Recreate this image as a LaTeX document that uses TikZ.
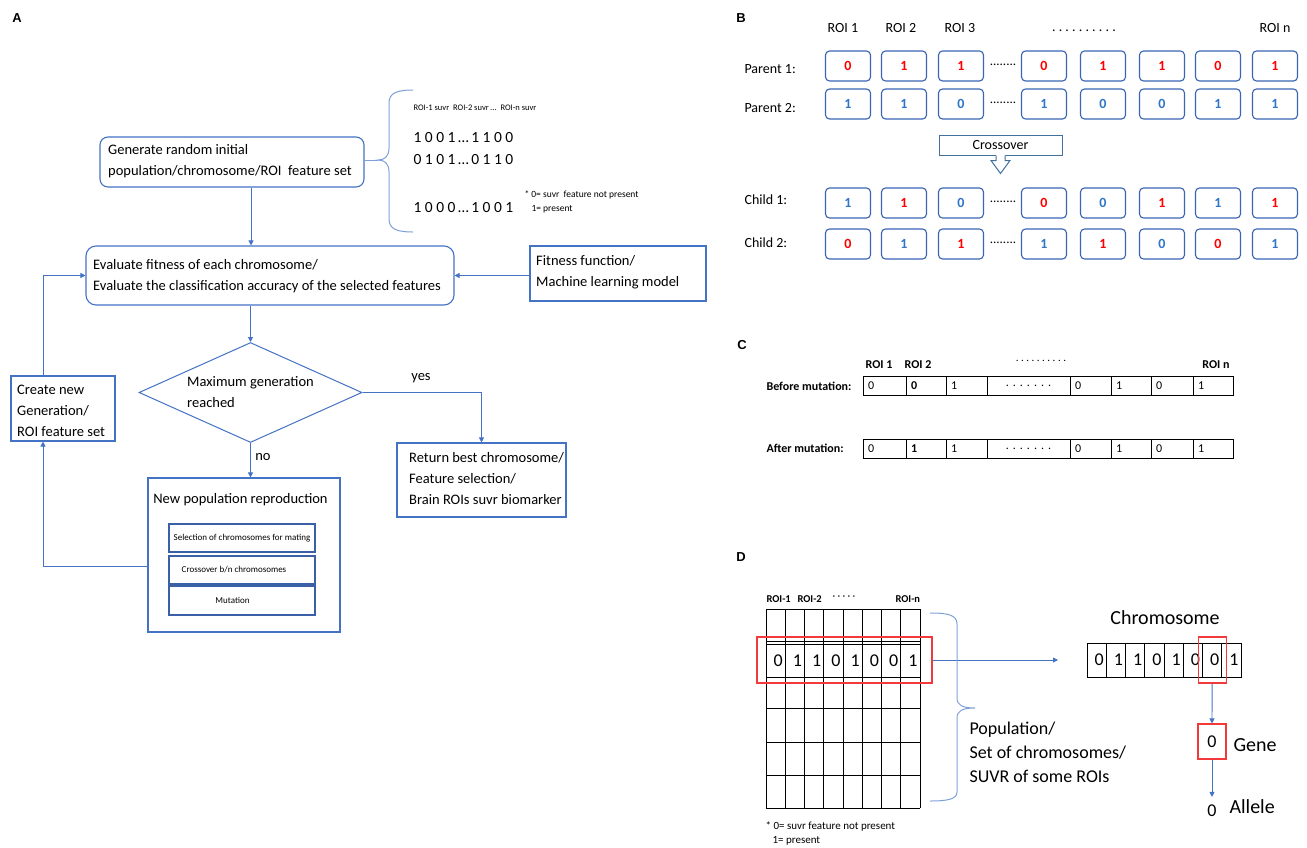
\documentclass[tikz,border=0pt]{standalone}
\usepackage{fontspec}
\setmainfont{Carlito}
\newfontfamily\arialf{Liberation Sans}
\usetikzlibrary{shapes.geometric,arrows.meta,calc}
\definecolor{ablue}{HTML}{4472C4}
\definecolor{bblue}{HTML}{3A64B4}
\definecolor{cblue}{HTML}{41719C}
\definecolor{lblue}{HTML}{7EA0D8}
\definecolor{dred}{HTML}{F23A3A}
\definecolor{rd}{HTML}{FF0000}
\definecolor{bl}{HTML}{2F75C8}
\newcommand\myfs[2]{\fontsize{#1pt}{#2pt}\selectfont}
\begin{document}
\begin{tikzpicture}[x=1pt,y=-1pt,
  abox/.style={draw=ablue, line width=1.1pt, rounded corners=8pt, inner sep=0pt},
  sbox/.style={draw=ablue, line width=1.1pt, inner sep=0pt},
  atx/.style={anchor=west, inner sep=0pt, align=left, font=\myfs{14.5}{21}},
  ibox/.style={draw=ablue!85!black, line width=1.1pt, inner sep=0pt, minimum width=146pt},
  arr/.style={draw=ablue, line width=1pt, -{Triangle[length=5pt,width=5pt]}},
  brc/.style={draw=lblue, line width=1pt},
  lbl/.style={font=\arialf\bfseries\myfs{13}{15}},
  bb/.style={draw=bblue, line width=1.1pt, rounded corners=4pt, minimum width=45pt, minimum height=30pt, inner sep=0pt, font=\bfseries\myfs{14}{16}},
  btx/.style={font=\myfs{14}{16}},
  ccell/.style={draw=black, line width=0.8pt, minimum height=19pt, inner ysep=0pt, inner xsep=5pt, font=\myfs{12}{14}},
  ctx/.style={font=\bfseries\myfs{12}{14}},
  dcell/.style={draw=black, line width=0.9pt, minimum width=19.25pt, minimum height=34pt, inner sep=0pt, font=\myfs{18}{20}},
  rbox/.style={draw=dred, line width=1.1pt, inner sep=0pt},
  darr/.style={draw=ablue, line width=0.9pt, -{Triangle[length=5pt,width=5pt]}}
]
\fill[white] (0,0) rectangle (1307,847);
\useasboundingbox (0,0) rectangle (1307,847);

% panel letters
\node[lbl] (lA) at (17,18) {A};
\node[lbl] (lB) at (741,18) {B};
\node[lbl] (lC) at (742,345) {C};
\node[lbl] (lD) at (741,557) {D};

% ---------------- Panel A ----------------
\node[abox, minimum width=264pt, minimum height=50pt] (gen) at (232,162) {};
\node[atx] (gent) at (108,161) {Generate random initial\\population/chromosome/ROI\ \ feature set};
\node[abox, rounded corners=10pt, minimum width=368pt, minimum height=59pt] (eval) at (270,275.5) {};
\node[atx] (evalt) at (93,276.5) {Evaluate fitness of each chromosome/\\Evaluate the classification accuracy of the selected features};
\node[sbox, minimum width=176pt, minimum height=55pt] (fit) at (618,273.5) {};
\node[atx] (fitt) at (536,272.5) {Fitness function/\\Machine learning model};
\node[draw=ablue, line width=1pt, shape=diamond, shape aspect=2.23, minimum width=223pt, minimum height=100pt, inner sep=0pt, align=left, font=\myfs{14.5}{21}] (dia) at (250.5,392.5) {Maximum generation\\reached};
\node[sbox, minimum width=104pt, minimum height=65pt] (cre) at (63,408.5) {};
\node[atx] (cret) at (17,410.5) {Create new\\Generation/\\ROI feature set};
\node[sbox, minimum width=169pt, minimum height=74pt] (ret) at (481.5,480) {};
\node[atx] (rett) at (409,478.5) {Return best chromosome/\\Feature selection/\\Brain ROIs suvr biomarker};
\node[sbox, minimum width=192pt, minimum height=154pt] (np) at (244,555) {};
\node[font=\myfs{14.5}{17}] (npt) at (240.5,500) {New population reproduction};
\node[ibox, minimum height=28pt] (sel) at (242,538) {};
\node[font=\myfs{9}{11}] (selt) at (242,538) {Selection of chromosomes for mating};
\node[ibox, minimum height=28pt] (cro) at (242,570) {};
\node[font=\myfs{9}{11}] (crot) at (234,570) {Crossover b/n chromosomes};
\node[ibox, minimum height=29pt] (mut) at (242,600.5) {};
\node[font=\myfs{9}{11}] (mutt) at (232.5,600) {Mutation};
\node[font=\myfs{14.5}{17}] (yes) at (421,378) {yes};
\node[font=\myfs{14.5}{17}] (no) at (263,457) {no};

\coordinate (g1) at ([xshift=19pt]gen.south);
\draw[arr] (g1) -- (g1 |- eval.north);
\draw[arr] (eval.east -| fit.west) -- (eval.east);
\draw[arr] (dia.north |- eval.south) -- (dia.north);
\draw[arr] (dia.south) -- (dia.south |- np.north);
\draw[arr] (dia.east) -| (ret.north);
\coordinate (lx) at (43,0);
\coordinate (np1) at ([yshift=-11pt]np.west);
\draw[arr] (np1) -| (lx |- cre.south);
\draw[arr] (lx |- cre.north) |- (eval.west);

% brace A
\coordinate (bt) at (378,160);
\draw[brc] (gen.east |- bt) -- (bt);
\draw[brc] (413,90) .. controls (397,90) and (389,93) .. (389,103) -- (389,148) .. controls (389,156) and (385,160) .. (bt) .. controls (385,160) and (389,164) .. (389,172) -- (389,219) .. controls (389,229) and (397,232) .. (413,232);
\node[anchor=west, font=\myfs{8.5}{10}] (roih) at (410,108) {ROI-1 suvr\ \ ROI-2 suvr\,...\ \ ROI-n suvr};
\node[anchor=west, font=\myfs{15.5}{18}] (bs1) at (410,138) {1 0 0 1\,…\,1 1 0 0};
\node[anchor=west, font=\myfs{15.5}{18}] (bs2) at (410,160) {0 1 0 1\,…\,0 1 1 0};
\node[anchor=west, font=\myfs{15.5}{18}] (bs3) at (410,208) {1 0 0 0\,…\,1 0 0 1};
\node[anchor=west, font=\myfs{9.5}{12}] (fna1) at (521,195) {* 0= suvr\ \ feature not present};
\node[anchor=west, font=\myfs{9.5}{12}] (fna2) at (528,209) {1= present};

% ---------------- Panel B ----------------
\node[btx] (r1) at (843,28) {ROI 1};
\node[btx] (r2) at (901,28) {ROI 2};
\node[btx] (r3) at (960,28) {ROI 3};
\node[btx] (rd) at (1084,31) {.\ .\ .\ .\ .\ .\ .\ .\ .\ .};
\node[btx] (rn) at (1275,28) {ROI n};
\node[btx, anchor=west] (lp1) at (741,69) {Parent 1:};
\node[btx, anchor=west] (lp2) at (741,108) {Parent 2:};
\node[btx, anchor=west] (lc1) at (741,200) {Child 1:};
\node[btx, anchor=west] (lc2) at (741,243) {Child 2:};
\foreach \x/\v/\c [count=\i] in {848/0/rd,904/1/rd,961/1/rd,1044/0/rd,1103/1/rd,1162/1/rd,1218/0/rd,1275/1/rd}
  \node[bb, text=\c] (pa\i) at (\x,66) {\v};
\foreach \x/\v/\c [count=\i] in {848/1/bl,904/1/bl,961/0/bl,1044/1/bl,1103/0/bl,1162/0/bl,1218/1/bl,1275/1/bl}
  \node[bb, text=\c] (pb\i) at (\x,104) {\v};
\foreach \x/\v/\c [count=\i] in {848/1/bl,904/1/rd,961/0/bl,1044/0/rd,1103/0/bl,1162/1/rd,1218/1/bl,1275/1/rd}
  \node[bb, text=\c] (ca\i) at (\x,203) {\v};
\foreach \x/\v/\c [count=\i] in {848/0/rd,904/1/bl,961/1/rd,1044/1/bl,1103/1/rd,1162/0/bl,1218/0/rd,1275/1/bl}
  \node[bb, text=\c] (cb\i) at (\x,244) {\v};
\foreach \y [count=\i] in {65,103,202,243}
  \node[font=\myfs{13}{15}] (dt\i) at (1003,\y) {........};
\node[draw=cblue, line width=1pt, minimum width=123pt, minimum height=20pt, inner sep=0pt, font=\myfs{14}{16}] (cx) at (1000.5,145) {Crossover};
\fill[white] ([xshift=-4.5pt,yshift=1pt]cx.south) -- ++(0,6) -- ++(-5,0) -- ++(9.5,12) -- ++(9.5,-12) -- ++(-5,0) -- ++(0,-6) -- cycle;
\draw[draw=cblue, line width=1pt, line join=miter] ([xshift=-4.5pt]cx.south) -- ++(0,5) -- ++(-5,0) -- ++(9.5,13) -- ++(9.5,-13) -- ++(-5,0) -- ++(0,-5);

% ---------------- Panel C ----------------
\node[ctx] (cr1) at (879,365) {ROI 1};
\node[ctx] (cr2) at (918,365) {ROI 2};
\node[font=\myfs{11}{13}] (crd) at (1041,361) {.\ .\ .\ .\ .\ .\ .\ .\ .\ .};
\node[ctx] (crn) at (1216,365) {ROI n};
\node[ctx, anchor=west] (bml) at (763,386) {Before mutation:};
\node[ctx, anchor=west] (aml) at (763,448) {After mutation:};
\foreach \l/\r/\v/\al [count=\i] in {863/906/0/left,906/946/\textbf{0}/left,946/987/1/left,987/1070/{.\ .\ .\ .\ .\ .\ .}/center,1070/1111/0/left,1111/1151/1/left,1151/1193/0/left,1193/1233/1/left}{
  \pgfmathsetmacro\tw{\r-\l-10}
  \node[ccell, text width=\tw pt, align=\al] (bm\i) at ({(\l+\r)/2},385.5) {\v};
}
\foreach \l/\r/\v/\al [count=\i] in {863/906/0/left,906/946/\textbf{1}/left,946/987/1/left,987/1070/{.\ .\ .\ .\ .\ .\ .}/center,1070/1111/0/left,1111/1151/1/left,1151/1193/0/left,1193/1233/1/left}{
  \pgfmathsetmacro\tw{\r-\l-10}
  \node[ccell, text width=\tw pt, align=\al] (am\i) at ({(\l+\r)/2},448.5) {\v};
}

% ---------------- Panel D ----------------
\node[ctx, font=\bfseries\myfs{10.5}{12}, anchor=west] (dr1) at (763,599) {ROI-1};
\node[ctx, font=\bfseries\myfs{10.5}{12}, anchor=west] (dr2) at (794,599) {ROI-2};
\node[font=\myfs{10.5}{12}, anchor=west] (drd) at (829,598) {·\ ·\ ·\ ·\ ·};
\node[ctx, font=\bfseries\myfs{10.5}{12}, anchor=west] (drn) at (892,599) {ROI-n};
\foreach \i in {0,...,8}
  \draw[black, line width=0.9pt] ({766+\i*19.25},609) -- ({766+\i*19.25},808);
\foreach \y in {609,641,644,677,708,742,775,808}
  \draw[black, line width=0.9pt] (766,\y) -- (920,\y);
\foreach \v [count=\i] in {0,1,1,0,1,0,0,1}
  \node[font=\myfs{18}{20}] (gd\i) at ({766+(\i-0.5)*19.25+2.5},660.5) {\v};
\node[rbox, minimum width=175pt, minimum height=46pt] (rsel) at (844.5,660) {};
\coordinate (ce) at (1058,660);
\draw[darr] (rsel.east) -- (ce);
\draw[brc] (930,613) .. controls (948,613) and (957,615) .. (957,624) -- (957,698) .. controls (957,705) and (962,708) .. (975,708) .. controls (962,708) and (957,711) .. (957,718) -- (957,792) .. controls (957,799) and (948,801) .. (930,801);
\node[anchor=west, align=left, font=\myfs{18}{24}] (popt) at (966,752) {Population/\\Set of chromosomes/\\SUVR of some ROIs};
\node[anchor=west, font=\myfs{11}{13}] (fnd1) at (762,826) {* 0= suvr feature not present};
\node[anchor=west, font=\myfs{11}{13}] (fnd2) at (769,841) {1= present};

\node[font=\myfs{20}{22}] (chl) at (1165,618) {Chromosome};
\foreach \v [count=\i] in {0,1,1,0,1,0,0,1}
  \node[dcell] (ch\i) at ({1087+(\i-0.5)*19.25},660) {\hspace*{5pt}\v};
\node[rbox, minimum width=28pt, minimum height=46pt] (gsel) at (ch7) {};
\node[rbox, minimum width=28pt, minimum height=35pt, font=\myfs{18}{20}] (gene) at (1212,741.5) {0};
\node[anchor=west, font=\myfs{20}{22}] (genel) at (1230,745) {Gene};
\node[font=\myfs{18}{20}, inner sep=0pt] (al) at (1212,811) {0};
\node[anchor=west, font=\myfs{20}{22}] (alll) at (1226,807) {Allele};
\draw[darr] (gsel.south) -- (gene.north);
\draw[darr, shorten >=8pt] (gene.south) -- (al.north);
\end{tikzpicture}
\end{document}
